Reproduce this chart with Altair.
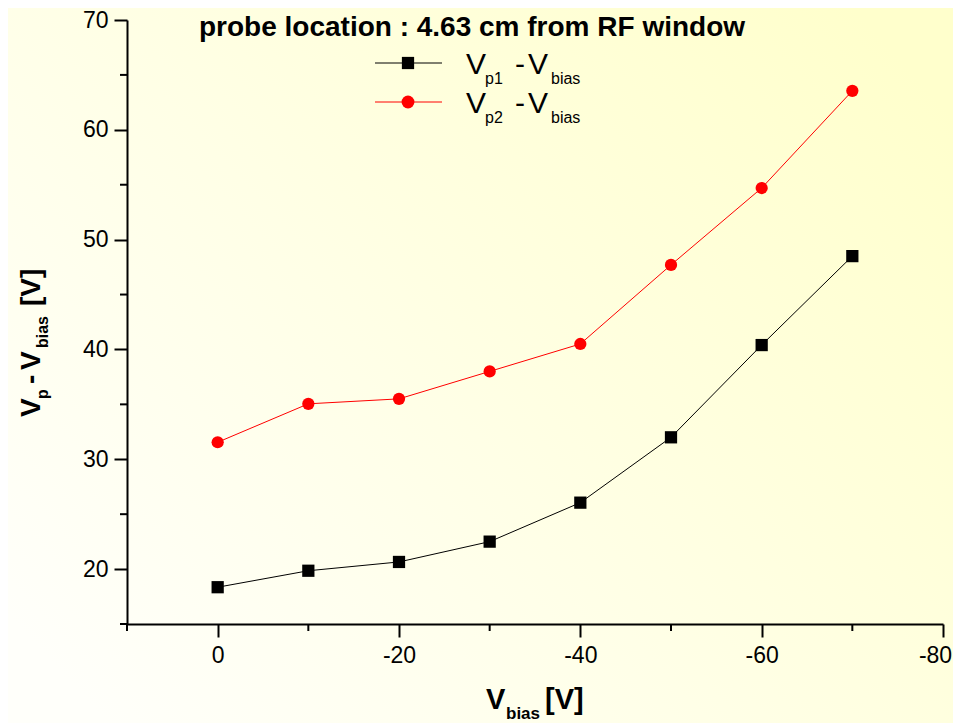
import altair as alt
import pandas as pd

# ---- data ----
v_bias = [0, -10, -20, -30, -40, -50, -60, -70]
vp1_minus_vbias = [18.35, 19.85, 20.65, 22.5, 26.05, 32.0, 40.4, 48.5]
vp2_minus_vbias = [31.55, 35.05, 35.5, 38.0, 40.5, 47.7, 54.7, 63.55]
series_names = ["Vp1 - Vbias", "Vp2 - Vbias"]
series_colors = ["#000000", "#FF0000"]
series_shapes = ["square", "circle"]
subscripts = ["p1", "p2"]

x_major = [0, -20, -40, -60, -80]
x_minor = [10, -10, -30, -50, -70]
y_major = [20, 30, 40, 50, 60, 70]
y_minor = [15, 25, 35, 45, 55, 65]

title_text = "probe location : 4.63 cm from RF window"

FONT = "Liberation Sans"
W, H = 816, 604
PAD_L, PAD_T, PAD_R, PAD_B = 119, 12, 10, 99

rows = []
for name, vals in zip(series_names, [vp1_minus_vbias, vp2_minus_vbias]):
    for xv, yv in zip(v_bias, vals):
        rows.append({"series": name, "x": xv, "y": yv})
df = pd.DataFrame(rows)
one = pd.DataFrame({"k": [0]})

xscale = alt.Scale(domain=[-80, 10], reverse=True, nice=False, zero=False)
yscale = alt.Scale(domain=[15, 70], nice=False, zero=False)
cscale = alt.Scale(domain=series_names, range=series_colors)
sscale = alt.Scale(domain=series_names, range=series_shapes)

bg = alt.Chart(one).mark_rect(
    fill=alt.LinearGradient(
        gradient="linear",
        stops=[alt.GradientStop(color="#FFFFFA", offset=0),
               alt.GradientStop(color="#FFFFE6", offset=0.45),
               alt.GradientStop(color="#FFFFCC", offset=1)],
        x1=0, y1=0.85, x2=1, y2=0.15),
    strokeWidth=0,
).encode(x=alt.value(-PAD_L), x2=alt.value(W + PAD_R), y=alt.value(-PAD_T), y2=alt.value(H + PAD_B))

axis_style = dict(
    title=None, tickSize=13, domainColor="black", domainWidth=2, tickColor="black",
    tickWidth=2, labelFont=FONT, labelFontSize=23, labelColor="black", grid=False,
    labelFlush=False, labelOverlap=False, zindex=2, labelExpr="toString(datum.value)",
)

base = alt.Chart(df).encode(
    x=alt.X("x:Q", scale=xscale, axis=alt.Axis(
        values=x_major, labelPadding=7,
        labelOffset={"condition": {"test": "datum.value == -80", "value": -8}, "value": 0},
        **axis_style)),
    y=alt.Y("y:Q", scale=yscale, axis=alt.Axis(values=y_major, labelPadding=6, **axis_style)),
    color=alt.Color("series:N", scale=cscale, legend=None),
)
lines = base.mark_line(strokeWidth=1).encode(detail="series:N")
points = base.mark_point(filled=True, opacity=1, size=150).encode(
    shape=alt.Shape("series:N", scale=sscale, legend=None))

xminor = alt.Chart(pd.DataFrame({"x": x_minor})).mark_rule(color="black", strokeWidth=2).encode(
    x=alt.X("x:Q", scale=xscale), y=alt.value(H), y2=alt.value(H + 7))
yminor = alt.Chart(pd.DataFrame({"y": y_minor})).mark_rule(color="black", strokeWidth=2).encode(
    y=alt.Y("y:Q", scale=yscale), x=alt.value(0), x2=alt.value(-7))


def txt(text, x, y, size, bold=False, angle=0, align="left"):
    return alt.Chart(one).mark_text(
        text=text, font=FONT, fontSize=size, fontWeight="bold" if bold else "normal",
        align=align, baseline="alphabetic", angle=angle, color="black",
    ).encode(x=alt.value(x), y=alt.value(y))


layers = [bg, lines, points, xminor, yminor]

# title
layers.append(txt(title_text, 345, 16, 28, bold=True, align="center"))

# legend
row_y = [43, 82]
for i, name in enumerate(series_names):
    ry = row_y[i]
    layers.append(alt.Chart(one).mark_rule(color=series_colors[i], strokeWidth=1).encode(
        x=alt.value(248), x2=alt.value(315), y=alt.value(ry)))
    layers.append(alt.Chart(one).mark_point(
        shape=series_shapes[i], filled=True, opacity=1,
        size=150 if series_shapes[i] == "square" else 165, color=series_colors[i]).encode(
        x=alt.value(281), y=alt.value(ry)))
    layers.append(txt("V", 339, ry + 10.5, 30))
    layers.append(txt(subscripts[i], 358, ry + 21, 16))
    layers.append(txt("-", 388, ry + 10.5, 30))
    layers.append(txt("V", 401, ry + 10.5, 30))
    layers.append(txt("bias", 424, ry + 21, 16))

# x axis title
layers.append(txt("V", 359, 689, 29, bold=True))
layers.append(txt("bias", 379, 699, 17, bold=True))
layers.append(txt("[V]", 418, 689, 29, bold=True))

# y axis title (rotated)
layers.append(txt("V", -87, 397, 28, bold=True, angle=270))
layers.append(txt("p", -79, 379, 16, bold=True, angle=270))
layers.append(txt("-", -87, 364, 28, bold=True, angle=270))
layers.append(txt("V", -87, 350, 28, bold=True, angle=270))
layers.append(txt("bias", -79, 328, 16, bold=True, angle=270))
layers.append(txt("[V]", -87, 286, 28, bold=True, angle=270))

chart = alt.layer(*layers).properties(
    width=W, height=H,
    autosize=alt.AutoSizeParams(type="none"),
    padding={"left": PAD_L, "top": PAD_T, "right": PAD_R, "bottom": PAD_B},
    background="#FFFFF6",
).configure_view(stroke=None)

chart.save("out.html", embed_options={"renderer": "svg", "actions": False})
